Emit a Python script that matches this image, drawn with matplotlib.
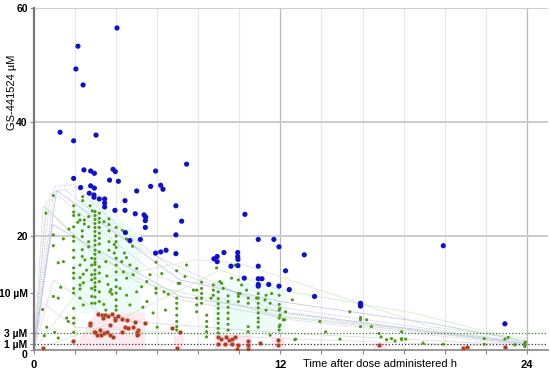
import numpy as np
import matplotlib
matplotlib.use('Agg')
import matplotlib.pyplot as plt
from matplotlib.patches import Polygon

plt.rcParams['font.family'] = ['Liberation Sans', 'DejaVu Sans']

# ---- data (time h, concentration uM) ----
blue_t = [2.14, 2.04, 2.39, 4.04, 1.27, 3.02, 1.93, 7.43, 2.43, 2.76, 2.94, 3.85, 3.96, 5.92,
          1.93, 3.68, 4.11, 2.27, 2.76, 2.94, 5.68, 6.17, 6.28, 5.00, 2.69, 2.92, 2.92, 3.18,
          3.44, 3.44, 3.44, 4.43, 3.94, 4.43, 4.93, 5.36, 5.44, 5.42, 5.42, 6.91, 7.19, 4.45,
          4.67, 5.18, 6.91, 5.92, 6.17, 6.43, 6.91, 8.76, 8.92, 8.92, 9.25, 10.27, 9.92, 9.92,
          10.92, 11.68, 11.93, 13.16, 9.93, 9.93, 9.59, 10.24, 10.92, 10.92, 11.10, 10.92, 10.92,
          11.43, 11.93, 12.25, 12.43, 13.66, 15.90, 15.90, 15.90, 19.93, 22.93]
blue_c = [53.3, 49.3, 46.5, 56.5, 38.2, 37.7, 36.7, 32.6, 31.6, 31.4, 31.0, 31.7, 31.3, 31.4,
          30.1, 29.8, 29.6, 28.5, 28.8, 28.4, 28.7, 28.9, 28.2, 27.9, 27.5, 27.2, 26.8, 26.5,
          26.5, 25.8, 25.1, 26.2, 24.5, 24.5, 23.9, 23.7, 23.3, 22.7, 21.5, 25.3, 22.6, 20.6,
          19.2, 19.4, 20.2, 17.0, 17.2, 17.5, 16.9, 16.0, 16.4, 15.5, 17.1, 23.8, 17.1, 16.4,
          19.4, 19.4, 18.1, 16.7, 15.9, 14.8, 14.7, 12.6, 14.7, 12.5, 12.5, 11.5, 11.2,
          11.5, 11.2, 13.9, 10.6, 9.4, 8.2, 7.9, 7.7, 18.3, 4.6]

green_t = [0.42, 0.58, 0.62, 0.94, 0.94, 0.94, 0.94, 1.18, 1.18, 1.18, 1.43, 1.43, 1.59, 1.67,
           1.70, 1.30, 1.00, 0.50,
           1.93, 1.93, 1.93, 1.93, 1.93, 1.93, 1.93, 1.93, 1.93, 1.93, 1.93, 1.93, 1.93, 1.93,
           1.93, 1.93, 1.93,
           2.13, 2.19, 2.24, 2.45, 2.45, 2.37, 2.37, 2.35, 2.35, 2.35, 2.35, 2.24, 2.24, 2.24,
           2.24, 2.24, 2.40, 2.40, 2.40, 2.48, 2.56,
           2.66, 2.73, 2.84, 2.66, 2.66, 2.66, 2.81, 2.81, 2.81, 2.81, 2.81, 2.81, 2.81,
           2.97, 2.97, 2.97, 2.97, 2.97, 2.97, 2.97, 2.97, 2.97, 2.97, 2.97, 2.97, 2.97, 2.97,
           2.97, 2.97, 2.97, 2.97, 2.97, 2.97, 2.97, 2.97,
           3.18, 3.18, 3.18, 3.18, 3.18, 3.18, 3.18, 3.18, 3.18, 3.18, 3.18, 3.18, 3.18,
           3.41, 3.65, 3.65, 3.65, 3.65, 3.65, 3.91, 3.91, 3.50, 3.55, 3.70, 3.75, 3.80, 3.60,
           3.40, 3.50,
           4.00, 4.00, 4.00, 4.00, 4.00, 4.00, 4.00, 4.00, 4.00, 4.00, 4.00, 4.00, 4.00,
           4.27, 4.35, 4.51, 4.67, 4.83, 5.00, 4.19, 4.51, 4.67, 4.40, 4.50, 4.50, 4.80, 4.30,
           5.94, 7.43, 6.95, 5.65, 5.49, 5.24, 5.00, 6.22, 7.35, 7.03, 5.94, 5.94, 6.33, 6.54,
           6.95, 6.95, 6.95, 6.95, 6.95, 6.95, 6.95,
           5.50, 5.80, 6.00, 5.30, 6.40,
           8.16, 8.16, 8.16, 8.16, 8.16, 7.92, 7.92, 7.92, 7.92, 8.41, 8.41, 8.41,
           8.62, 8.97, 9.14, 9.22, 8.89, 9.62, 9.95, 9.79, 10.11,
           8.97, 8.97, 8.97, 8.97, 8.97, 8.97, 8.97, 8.97,
           9.45, 9.45, 9.45, 9.45, 9.45, 9.45, 9.45,
           10.03, 10.43, 10.43,
           10.92, 10.92, 10.92, 10.92, 10.92, 10.92, 10.92, 10.92,
           11.25, 11.30, 11.57, 11.94, 11.94, 11.94, 11.94, 11.94, 11.94,
           12.14, 12.25, 12.58, 13.92, 14.20, 14.90, 15.38, 15.90, 15.90, 15.90, 16.20, 16.43,
           12.74, 11.50, 10.43, 10.43,
           7.10, 7.76, 8.73, 8.73, 8.73, 9.05, 9.95, 9.95, 9.95, 10.35, 10.84, 11.30, 11.50,
           11.98, 11.98, 11.98, 12.20, 12.70, 8.40, 8.40,
           16.80, 16.90, 17.17, 17.41, 17.58, 17.90, 17.90, 17.90, 18.10, 18.95, 19.93, 21.92,
           21.92, 22.93, 23.09, 23.42, 23.90, 23.90, 23.90, 23.93]
green_c = [7.1, 24.0, 4.0, 27.1, 20.2, 18.3, 9.4, 9.1, 15.3, 2.1, 15.5, 19.5, 5.6, 5.0,
           21.2, 11.0, 3.1, 2.5,
           25.3, 24.2, 23.6, 21.6, 19.9, 19.1, 17.5, 16.2, 14.4, 12.6, 10.8, 10.0, 7.3, 5.6,
           4.7, 3.1, 13.5,
           22.4, 23.7, 22.8, 22.8, 22.1, 26.9, 26.2, 20.9, 19.9, 17.6, 16.4, 14.9, 12.7, 11.4,
           10.7, 9.1, 13.3, 11.8, 7.9, 15.8, 14.0,
           23.4, 25.3, 24.4, 21.6, 19.0, 18.1, 16.1, 14.9, 13.2, 12.3, 10.8, 9.4, 8.2,
           24.3, 23.6, 22.9, 22.2, 21.5, 20.8, 20.0, 19.2, 18.4, 17.5, 16.8, 16.0, 15.4, 14.0,
           12.6, 11.8, 10.5, 9.3, 8.2, 15.0, 13.3, 11.1,
           24.0, 23.1, 22.4, 21.5, 20.5, 19.6, 18.6, 17.2, 14.6, 13.5, 12.0, 10.2, 8.5,
           22.5, 23.0, 22.0, 20.9, 19.0, 17.5, 18.5, 17.0, 15.5, 13.0, 10.2, 10.6, 9.8, 11.5,
           8.0, 7.0,
           16.1, 14.9, 13.7, 12.3, 11.1, 10.0, 8.8, 7.7, 7.0, 20.0, 19.0, 18.0, 21.5,
           15.5, 13.7, 12.6, 14.9, 13.2, 14.3, 10.8, 9.6, 7.9, 17.0, 16.2, 19.5, 18.2, 21.0,
           15.4, 14.9, 13.9, 13.2, 12.0, 11.1, 10.2, 13.4, 12.9, 11.7, 10.8, 10.0, 10.2, 9.8,
           9.1, 8.2, 7.3, 6.1, 5.0, 4.1, 3.5,
           8.5, 6.5, 4.0, 7.5, 7.0,
           11.9, 10.8, 9.9, 9.1, 8.2, 10.5, 9.1, 7.9, 6.7, 6.1, 5.0, 4.1,
           9.1, 10.2, 11.7, 10.8, 14.4, 12.6, 12.3, 14.9, 11.4,
           9.0, 8.1, 7.3, 6.4, 5.5, 4.7, 3.8, 3.0,
           9.5, 8.5, 7.5, 6.5, 5.5, 4.5, 3.5,
           9.9, 9.1, 8.2,
           9.9, 9.1, 8.2, 7.4, 6.5, 5.6, 4.9, 4.0,
           8.8, 7.0, 9.9, 9.6, 5.6, 4.1, 3.5, 7.0, 8.0,
           5.3, 6.7, 8.8, 5.0, 3.2, 1.9, 6.7, 5.7, 5.3, 4.1, 5.3, 4.1,
           1.9, 2.6, 4.1, 3.2,
           11.7, 10.5, 11.4, 10.5, 9.6, 12.0, 9.9, 9.4, 8.5, 10.5, 9.1, 9.6, 8.2,
           7.3, 6.1, 4.4, 5.3, 1.8, 3.2, 2.3,
           2.9, 2.3, 1.8, 2.0, 1.6, 3.2, 2.0, 1.8, 1.9, 1.2, 1.0, 2.0,
           1.0, 1.9, 2.2, 0.9, 1.2, 0.9, 0.6, 1.4]

red_t = [3.13, 3.30, 3.46, 3.62, 3.78, 3.95, 4.11, 4.27, 3.34, 3.70, 3.94, 2.73, 2.94, 3.05,
         3.26, 3.41, 3.54, 3.21, 4.43, 4.59, 4.83, 5.08, 5.08, 1.91, 3.70, 3.86, 4.27, 2.73,
         2.97, 4.51, 4.92, 5.00, 5.00, 5.40, 6.70, 7.10, 6.95, 0.45,
         8.95, 9.10, 9.35, 9.50, 9.65, 9.80, 8.95, 9.30, 9.65, 9.95, 9.90, 10.43, 10.43, 10.43,
         11.0, 11.9, 11.9, 16.80, 20.90, 21.10, 22.93]
red_c = [6.3, 6.1, 6.2, 6.0, 6.3, 5.7, 6.0, 5.5, 5.6, 4.4, 5.3, 4.4, 3.1, 2.6,
         2.6, 2.9, 3.2, 3.5, 4.1, 3.8, 4.1, 3.5, 2.8, 1.6, 2.6, 2.3, 3.1, 4.7,
         3.2, 5.3, 5.0, 3.2, 2.6, 4.7, 3.8, 3.2, 0.3, 0.3,
         2.2, 1.9, 2.2, 1.7, 1.9, 2.2, 1.0, 1.0, 1.0, 0.8, 0.1, 0.1, 1.6, 0.8,
         1.3, 1.8, 0.9, 0.9, 0.4, 0.5, 0.5]

# PK curves (time, conc)
curves = [
    ('#8f8fd8', ':', [0, 1.0, 1.9, 4.4, 7.1, 12, 24], [0, 28.7, 29.0, 20.8, 13.4, 7.5, 1.2]),
    ('#8f8fd8', ':', [0, 0.8, 1.5, 5.0, 12, 24], [0, 27.5, 28.2, 18.0, 6.5, 1.0]),
    ('#9a9ae0', ':', [0, 0.6, 1.2, 6.0, 12, 24], [0, 26.0, 27.0, 13.0, 5.5, 0.8]),
    ('#b4b4e8', '-', [0, 1.1, 7.1, 12, 19.3, 24], [0, 28.0, 12.3, 8.5, 4.7, 1.5]),
    ('#b4b4e8', '-', [0, 0.9, 7.1, 12, 24], [0, 22.0, 9.4, 6.7, 1.1]),
    ('#cfcfcf', '-', [0, 0.45, 3.05, 7.1, 12, 19.3, 24], [0, 25.2, 16.4, 8.8, 5.8, 3.0, 0.9]),
    ('#d2d2d2', '-', [0, 0.95, 3.7, 12, 24], [0, 12.3, 5.3, 3.0, 0.8]),
    ('#d8d8d8', '-', [0, 0.45, 2.0, 12, 24], [0, 8.2, 4.0, 2.0, 0.5]),
    ('#bfe3b5', '-', [0, 0.6, 2.0, 5.0, 12, 24], [0, 25.0, 20.0, 12.0, 6.0, 1.5]),
    ('#c8e6c0', '-', [0, 2.5, 7.9, 10, 19.3, 24], [0, 12.0, 15.8, 15.2, 4.1, 2.0]),
    ('#c8e6c0', '-', [0, 4.0, 9.05, 12, 18.5, 23.9], [0, 5.0, 14.0, 10.5, 6.5, 1.5]),
]

cyan_zones = [
    [(1.9, 6.5), (1.9, 26.0), (3.0, 26.5), (5.2, 20.0), (5.2, 6.5)],
    [(8.7, 3.0), (8.7, 12.5), (12.3, 11.0), (12.3, 3.0)],
]
pink_zones = [
    [(1.9, 0), (3.0, 6.6), (5.4, 6.6), (5.4, 0)],
    [(6.8, 0), (6.8, 2.5), (7.3, 2.5), (7.3, 0)],
    [(8.8, 0), (8.8, 2.6), (10.6, 2.6), (10.6, 0)],
    [(11.6, 0), (11.6, 2.2), (12.2, 2.2), (12.2, 0)],
    [(16.5, 0), (16.5, 1.3), (17.2, 1.3), (17.2, 0)],
    [(20.7, 0), (20.7, 0.9), (21.3, 0.9), (21.3, 0)],
]

ytick_vals = [0, 1, 3, 10, 20, 40, 60]
ytick_labels = ['0', '1 µM', '3 µM', '10 µM', '20', '40', '60']
xtick_vals = [0, 12, 24]


def main():
    fig = plt.figure(figsize=(5.5, 3.71), dpi=100)
    ax = fig.add_axes([34 / 550, 21 / 371, 514 / 550, 342 / 371])
    ax.set_xlim(0, 25.03)
    ax.set_ylim(0, 60)

    # grid
    for t in range(2, 25, 2):
        col = '#b8b8b8' if t % 12 == 0 else '#e8e8e8'
        ax.axvline(t, color=col, lw=0.9, zorder=0)
    for v in (20, 40, 60):
        ax.axhline(v, color='#cccccc', lw=1.4, zorder=0)

    for poly in cyan_zones:
        ax.add_patch(Polygon(poly, closed=True, facecolor='#eefcf8', edgecolor='none', zorder=0.5))
    for poly in pink_zones:
        ax.add_patch(Polygon(poly, closed=True, facecolor='#fdeaf0', edgecolor='none', zorder=0.5))

    for col, ls, xs, ys in curves:
        ax.plot(xs, ys, color=col, ls=ls, lw=0.6, alpha=0.75, zorder=1)

    ax.axhline(3, color='#3a7d2a', ls=(0, (1, 1.6)), lw=0.9, zorder=2)
    ax.axhline(1, color='#333333', ls=(0, (1, 1.6)), lw=0.9, zorder=2)

    ax.scatter(green_t, green_c, s=5, color='#4a9a16', edgecolors='none', zorder=3)
    ax.scatter(red_t, red_c, s=9, color='#a8401e', edgecolors='#f08080', linewidths=0.3, zorder=3)
    ax.scatter(blue_t, blue_c, s=14, color='#1010d0', edgecolors='none', zorder=4)

    for s in ('top', 'right'):
        ax.spines[s].set_visible(False)
    ax.spines['left'].set_color('#777777')
    ax.spines['left'].set_linewidth(1.6)
    ax.spines['bottom'].set_color('#888888')
    ax.spines['bottom'].set_linewidth(1.2)

    ax.set_yticks(ytick_vals)
    ax.set_yticklabels(ytick_labels, fontsize=7.5, fontweight='bold')
    ax.set_xticks(xtick_vals)
    ax.set_xticklabels([str(v) for v in xtick_vals], fontsize=8, fontweight='bold')
    ax.set_xticks(range(2, 25, 2), minor=True)
    ax.tick_params(axis='both', which='both', length=3, width=0.8, color='#888888', pad=1.5)
    ax.tick_params(axis='x', which='major', pad=4)
    lbls = ax.get_yticklabels()
    lbls[0].set_va('top')

    fig.text(380 / 550, 1 - 364 / 371, 'Time after dose administered h', ha='center', va='center',
             fontsize=8)
    fig.text(12 / 550, 1 - 92 / 371, 'GS-441524 µM', rotation=90, ha='center', va='center',
             fontsize=8)

    fig.savefig('out.png', dpi=100, facecolor='white')
    plt.close(fig)


if __name__ == "__main__":
    main()
